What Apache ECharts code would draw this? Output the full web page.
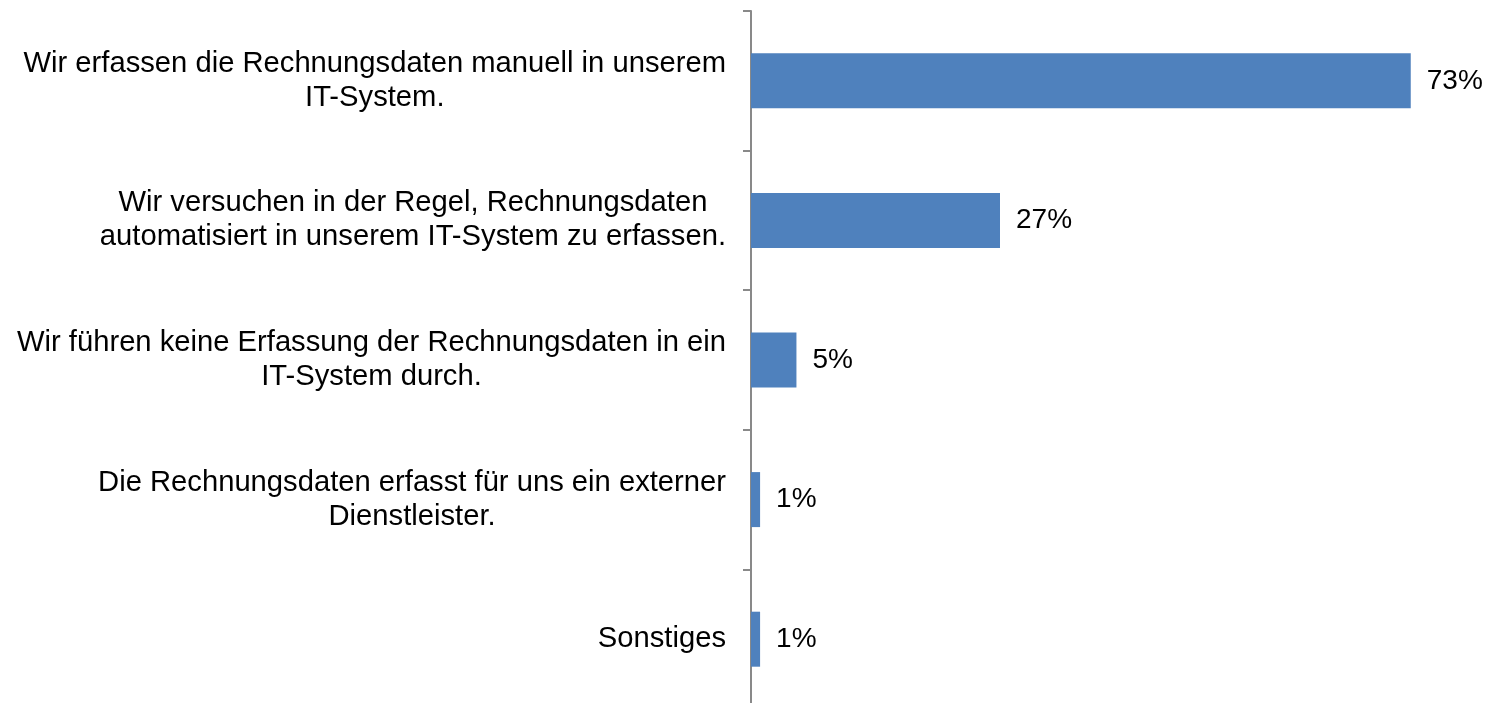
<!DOCTYPE html>
<html>
<head>
    <meta charset="utf-8">
    <title>Rechnungsdaten</title>
    <script type="text/javascript" src="https://cdn.jsdelivr.net/npm/echarts@6/dist/echarts.min.js"></script>
    <style>
        html, body { margin: 0; padding: 0; background: #fff; }
    </style>
</head>
<body>
<div id="chartmain" style="width:1492px; height:703px;"></div>
<script type="text/javascript">
// Kategorien (oben nach unten) und Anteile in %
var categories = [
    'Wir erfassen die Rechnungsdaten manuell in unserem\nIT-System.',
    'Wir versuchen in der Regel, Rechnungsdaten\nautomatisiert in unserem IT-System zu erfassen.',
    'Wir führen keine Erfassung der Rechnungsdaten in ein\nIT-System durch.',
    'Die Rechnungsdaten erfasst für uns ein externer\nDienstleister.',
    'Sonstiges'
];
var values = [72.6, 27.4, 5.0, 1.0, 1.0];

var option = {
    animation: false,
    // Achse geht unten etwas über den Bildrand hinaus
    grid: { left: 751, right: 14, top: 11, height: 698, outerBoundsMode: 'none' },
    xAxis: {
        type: 'value',
        min: 0,
        max: 80,
        show: false
    },
    yAxis: {
        type: 'category',
        inverse: true,
        data: categories,
        axisLine: { show: true, lineStyle: { color: '#898989', width: 2 } },
        axisTick: { show: true, length: 8, lineStyle: { color: '#898989', width: 2 } },
        axisLabel: {
            margin: 25,
            align: 'right',
            color: '#000',
            fontFamily: 'Liberation Sans, Arial, sans-serif',
            fontSize: 29.2,
            lineHeight: 34,
            formatter: function (v) {
                return v.split('\n').map(function (s) { return '{c|' + s + '}'; }).join('\n');
            },
            rich: {
                c: {
                    align: 'center',
                    color: '#000',
                    fontFamily: 'Liberation Sans, Arial, sans-serif',
                    fontSize: 29.2,
                    lineHeight: 34
                }
            }
        }
    },
    series: [{
        type: 'bar',
        data: values,
        barWidth: 55,
        itemStyle: { color: '#4F81BD' },
        label: {
            show: true,
            position: 'right',
            distance: 16,
            color: '#000',
            fontFamily: 'Liberation Sans, Arial, sans-serif',
            fontSize: 28,
            formatter: function (p) { return Math.round(p.value) + '%'; }
        }
    }]
};

var myChart = echarts.init(document.getElementById('chartmain'));
myChart.setOption(option);
</script>
</body>
</html>
